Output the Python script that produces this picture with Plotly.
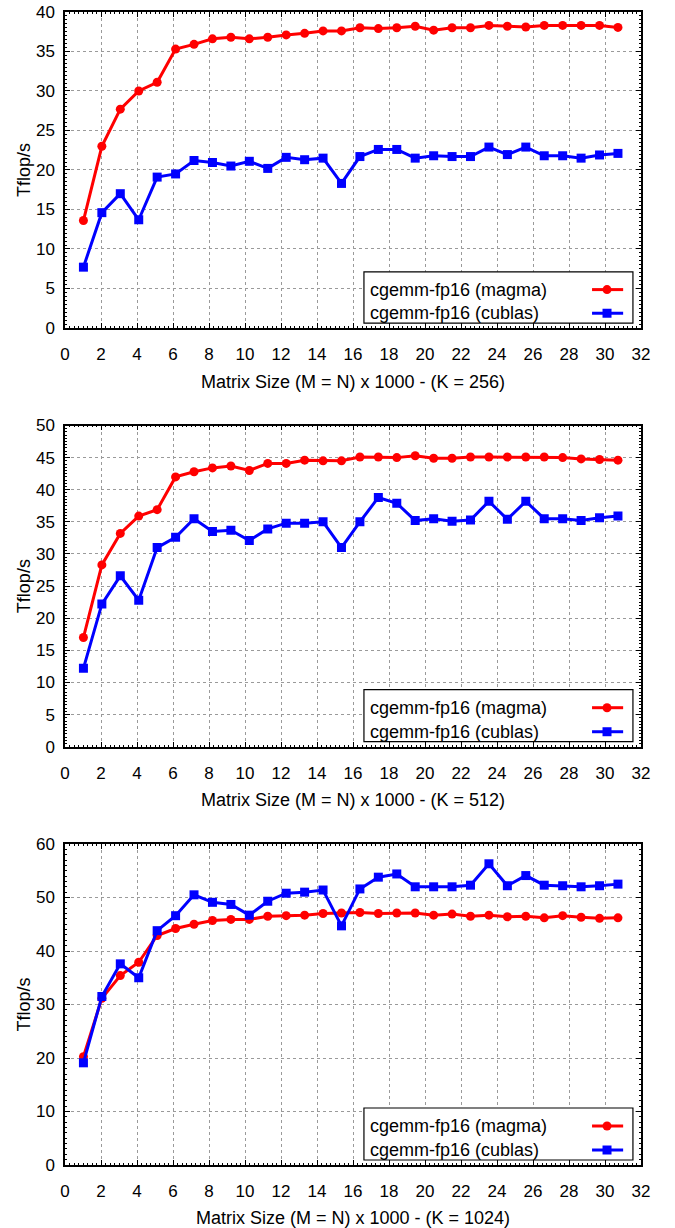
import plotly.graph_objects as go

# ---------------- data ----------------
matrix_size = [1.024, 2.048, 3.072, 4.096, 5.12, 6.144, 7.168, 8.192, 9.216, 10.24,
               11.264, 12.288, 13.312, 14.336, 15.36, 16.384, 17.408, 18.432, 19.456, 20.48,
               21.504, 22.528, 23.552, 24.576, 25.6, 26.624, 27.648, 28.672, 29.696, 30.72]

magma_256 = [13.6, 23.0, 27.7, 30.0, 31.1, 35.3, 35.9, 36.6, 36.8, 36.6,
             36.8, 37.1, 37.3, 37.6, 37.6, 38.0, 37.9, 38.0, 38.2, 37.7,
             38.0, 38.0, 38.3, 38.2, 38.1, 38.3, 38.3, 38.3, 38.3, 38.05]
cublas_256 = [7.7, 14.6, 17.0, 13.7, 19.1, 19.5, 21.2, 20.95, 20.5, 21.1,
              20.2, 21.6, 21.3, 21.5, 18.3, 21.7, 22.6, 22.6, 21.5, 21.8,
              21.7, 21.7, 22.9, 21.95, 22.9, 21.8, 21.8, 21.5, 21.9, 22.1]

magma_512 = [17.0, 28.3, 33.2, 35.9, 36.9, 42.0, 42.8, 43.4, 43.7, 43.0,
             44.1, 44.1, 44.6, 44.5, 44.5, 45.1, 45.1, 45.0, 45.3, 44.9,
             44.9, 45.1, 45.1, 45.1, 45.1, 45.1, 45.0, 44.8, 44.7, 44.6]
cublas_512 = [12.2, 22.2, 26.6, 22.8, 31.0, 32.6, 35.5, 33.5, 33.7, 32.1,
              33.9, 34.8, 34.8, 35.0, 31.0, 35.0, 38.8, 37.9, 35.2, 35.5,
              35.1, 35.3, 38.2, 35.4, 38.2, 35.5, 35.5, 35.2, 35.65, 35.9]

magma_1024 = [20.25, 31.15, 35.4, 37.9, 42.9, 44.2, 45.0, 45.7, 45.9, 45.9,
              46.5, 46.6, 46.7, 47.0, 47.1, 47.2, 47.0, 47.1, 47.1, 46.7,
              46.9, 46.5, 46.7, 46.4, 46.5, 46.2, 46.6, 46.3, 46.1, 46.2]
cublas_1024 = [19.1, 31.5, 37.6, 35.0, 43.8, 46.6, 50.5, 49.1, 48.7, 46.7,
               49.3, 50.8, 51.0, 51.4, 44.7, 51.6, 53.8, 54.4, 52.0, 52.0,
               52.0, 52.3, 56.3, 52.2, 54.1, 52.3, 52.2, 52.0, 52.2, 52.5]

k_values = [256, 512, 1024]
y_max = [40, 50, 60]
y_step = [5, 5, 10]
magma_name = "cgemm-fp16 (magma)"
cublas_name = "cgemm-fp16 (cublas)"
y_title = "Tflop/s"

# ---------------- figure ----------------
FONT = "Liberation Sans, Arial, Helvetica, sans-serif"
RED = "#ff0000"
BLUE = "#0000ff"

fig = go.Figure()
panels = [(magma_256, cublas_256), (magma_512, cublas_512), (magma_1024, cublas_1024)]
domains = [[0.7228, 0.9957], [0.3612, 0.6386], [0.0, 0.2772]]

for i, (mg, cb) in enumerate(panels):
    n = "" if i == 0 else str(i + 1)
    xa, ya = "x" + n, "y" + n
    fig.add_trace(go.Scatter(x=matrix_size, y=mg, mode="lines+markers", name=magma_name,
                             xaxis=xa, yaxis=ya, showlegend=False,
                             line=dict(color=RED, width=3),
                             marker=dict(symbol="circle", size=9, color=RED)))
    fig.add_trace(go.Scatter(x=matrix_size, y=cb, mode="lines+markers", name=cublas_name,
                             xaxis=xa, yaxis=ya, showlegend=False,
                             line=dict(color=BLUE, width=3),
                             marker=dict(symbol="square", size=9, color=BLUE)))

    axis_common = dict(showline=True, linecolor="black", linewidth=1.5, mirror="ticks",
                       ticks="inside", ticklen=5, tickwidth=1, tickcolor="black",
                       showgrid=True, gridcolor="#9a9a9a", griddash="dot", gridwidth=1,
                       zeroline=False, automargin=False, ticklabeloverflow="allow",
                       tickfont=dict(family=FONT, size=17, color="black"))
    fig.layout["xaxis" + n] = dict(
        axis_common, domain=[0, 1], range=[0, 32], dtick=2, tick0=0, anchor=ya,
        ticklabelstandoff=10,
        minor=dict(ticks="inside", ticklen=2, dtick=0.25, tickcolor="black", showgrid=False),
        title=dict(text=f"Matrix Size (M = N) x 1000 - (K = {k_values[i]})",
                   font=dict(family=FONT, size=18, color="black"), standoff=12))
    fig.layout["yaxis" + n] = dict(
        axis_common, domain=domains[i], range=[0, y_max[i]], dtick=y_step[i], tick0=0, anchor=xa,
        ticklabelstandoff=5,
        minor=dict(ticks="inside", ticklen=2, dtick=y_step[i] / 10, tickcolor="black", showgrid=False),
        title=dict(text=y_title, font=dict(family=FONT, size=18, color="black"), standoff=1))

    # legend box (text left, sample on right)
    xr, yr = xa + " domain", ya + " domain"
    fig.add_shape(type="rect", xref=xr, yref=yr, x0=0.519, x1=0.986, y0=0.0156, y1=0.1776,
                  line=dict(color="black", width=1.2), fillcolor="white", layer="above")
    for yy, name, col, sym in [(0.1215, magma_name, RED, "circle"), (0.0467, cublas_name, BLUE, "rect")]:
        fig.add_annotation(xref=xr, yref=yr, x=0.526, y=yy, text=name, showarrow=False,
                           xanchor="left", yanchor="middle",
                           font=dict(family=FONT, size=18, color="black"))
        fig.add_shape(type="line", xref=xr, yref=yr, x0=0.915, x1=0.969, y0=yy, y1=yy,
                      line=dict(color=col, width=3), layer="above")
        fig.add_shape(type=sym, xref=xr, yref=yr, xsizemode="pixel", ysizemode="pixel",
                      xanchor=0.941, yanchor=yy, x0=-4.5, x1=4.5, y0=-4.5, y1=4.5,
                      line=dict(color=col, width=0), fillcolor=col, layer="above")

fig.update_layout(width=675, height=1228,
                  margin=dict(l=65, r=34, t=7, b=63, autoexpand=False),
                  paper_bgcolor="white", plot_bgcolor="white",
                  font=dict(family=FONT, color="black"),
                  showlegend=False)

fig.write_html("out.html")
